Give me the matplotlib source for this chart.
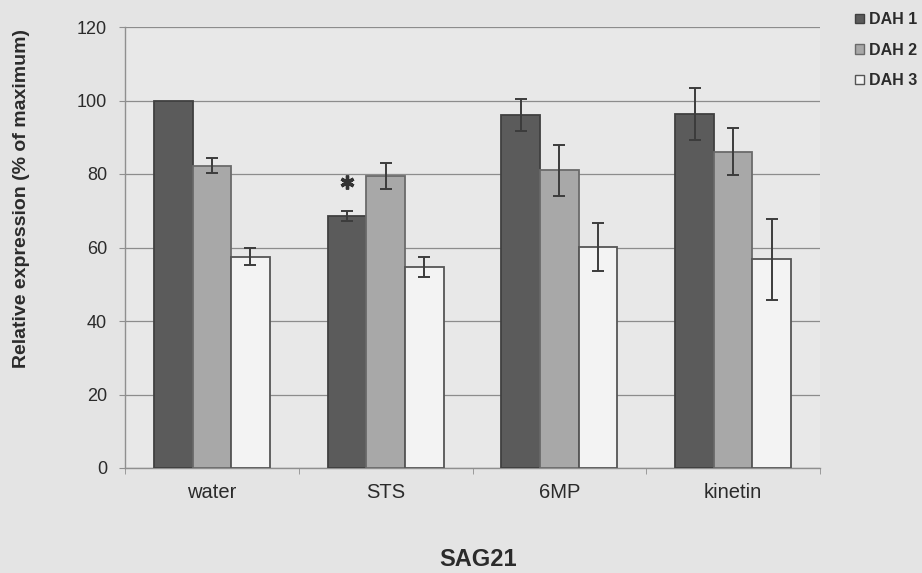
import matplotlib
matplotlib.use("Agg")
import matplotlib.pyplot as plt
from matplotlib.patches import Patch
import numpy as np

# Treatments and series
categories = ["water", "STS", "6MP", "kinetin"]
series = ["DAH 1", "DAH 2", "DAH 3"]

dah1 = [100.0, 68.6, 96.1, 96.3]
dah2 = [82.3, 79.5, 81.0, 86.1]
dah3 = [57.5, 54.8, 60.2, 56.8]

dah1_err = [0.0, 1.3, 4.4, 7.0]
dah2_err = [2.0, 3.5, 7.0, 6.5]
dah3_err = [2.3, 2.7, 6.5, 11.0]

# significance marks (series index, category index)
significant = [(0, 1)]

yticks = [0, 20, 40, 60, 80, 100, 120]

values = [dah1, dah2, dah3]
errors = [dah1_err, dah2_err, dah3_err]
fills = ["#5b5b5b", "#a8a8a8", "#f3f3f3"]
edges = ["#404040", "#6a6a6a", "#555555"]

text_color = "#2b2b2b"
plt.rcParams["font.family"] = ["Liberation Sans", "DejaVu Sans"]

fig = plt.figure(figsize=(9.22, 5.73), dpi=100, facecolor="#e4e4e4")
ax = fig.add_axes([125 / 922, 1 - 468 / 573, 695 / 922, 441 / 573])
ax.set_facecolor("#e8e8e8")

x = np.arange(len(categories))
width = 0.2222
offsets = [-width, 0.0, width]

for i, (vals, errs) in enumerate(zip(values, errors)):
    ax.bar(x + offsets[i], vals, width=width, color=fills[i],
           edgecolor=edges[i], linewidth=1.3, zorder=3)
    for xi, v, e in zip(x + offsets[i], vals, errs):
        if e > 0:
            ax.errorbar(xi, v, yerr=e, fmt="none", ecolor="#3c3c3c",
                        elinewidth=1.4, capsize=4, capthick=1.4, zorder=4)

for s, c in significant:
    top = values[s][c] + errors[s][c]
    ax.plot(x[c] + offsets[s], top + 8, marker=(6, 2, 0), markersize=10,
            markeredgewidth=2.4, color="#333333", zorder=5)

ax.set_xlim(-0.5, len(categories) - 0.5)
ax.set_ylim(0, 120)
ax.set_yticks(yticks)
ax.set_yticklabels([str(t) for t in yticks])
ax.set_xticks(x)
ax.set_xticklabels(categories)
ax.set_xticks(np.arange(len(categories) + 1) - 0.5, minor=True)

ax.grid(axis="y", color="#8c8c8c", linewidth=0.9, zorder=0)
ax.set_axisbelow(True)

for side in ["top", "right"]:
    ax.spines[side].set_visible(False)
ax.spines["left"].set_color("#8f8f8f")
ax.spines["bottom"].set_color("#8f8f8f")
ax.spines["left"].set_linewidth(1.0)
ax.spines["bottom"].set_linewidth(1.0)

ax.tick_params(axis="y", length=4, color="#8f8f8f", pad=9,
               labelsize=13, labelcolor=text_color)
ax.tick_params(axis="x", which="major", length=0, pad=11,
               labelsize=14.5, labelcolor=text_color)
ax.tick_params(axis="x", which="minor", length=4, color="#8f8f8f")

fig.text(22 / 922, 1 - 198 / 573, "Relative expression (% of maximum)",
         rotation=90, ha="center", va="center", fontsize=14,
         fontweight="bold", color=text_color)
fig.text(478 / 922, 1 - 560 / 573, "SAG21", ha="center", va="center",
         fontsize=17, fontweight="bold", color=text_color)

handles = [Patch(facecolor=f, edgecolor=e, linewidth=1.0)
           for f, e in zip(fills, edges)]
fig.legend(handles, series, loc="upper left",
           bbox_to_anchor=(855 / 922, 1 - 12 / 573), frameon=False,
           handlelength=0.55, handleheight=0.55, handletextpad=0.3,
           labelspacing=0.98, borderaxespad=0, borderpad=0,
           prop={"weight": "bold", "size": 11.5}, labelcolor=text_color)

fig.savefig("out.png", dpi=100, facecolor=fig.get_facecolor())
